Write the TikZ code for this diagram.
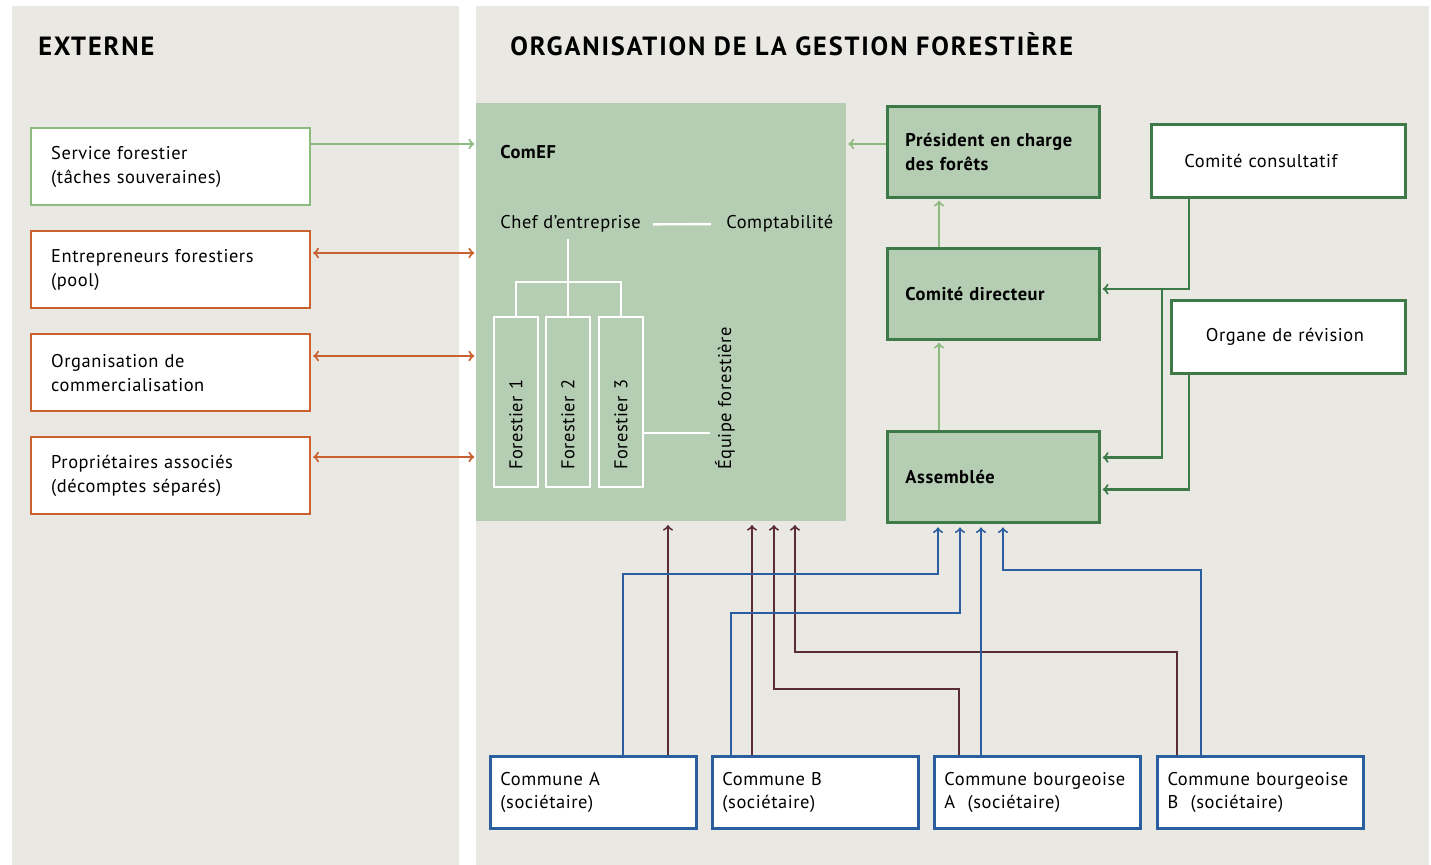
\documentclass[tikz,border=0pt]{standalone}
\usepackage{fontspec}
\setmainfont{PT Sans}[LetterSpace=3]
\newfontfamily\headfont{PT Sans}[LetterSpace=7]
\usepackage{xcolor}
\usepackage{tikz}
\usetikzlibrary{arrows,positioning,calc}

\definecolor{panelgray}{RGB}{234,232,227}
\definecolor{comefgreen}{RGB}{181,205,179}
\definecolor{darkgreen}{RGB}{62,122,72}
\definecolor{lightgreen}{RGB}{141,187,127}
\definecolor{rust}{RGB}{201,98,47}
\definecolor{commblue}{RGB}{43,94,158}
\definecolor{plum}{RGB}{90,45,53}
\newcommand{\boxfont}{\fontsize{10.5}{13.6}\selectfont}

\begin{document}
\begin{tikzpicture}[x=0.02cm, y=-0.02cm, >=to, font=\boxfont]
    \tikzstyle{extbox} = [rectangle, draw=rust, line width=1.4pt, fill=white, anchor=north west, minimum width=5.58cm, minimum height=1.54cm, text width=4.78cm, inner xsep=0.4cm, align=left]
    \tikzstyle{comefbox} = [rectangle, fill=comefgreen, anchor=north west, minimum width=7.4cm, minimum height=8.36cm, inner sep=0]
    \tikzstyle{forbox} = [rectangle, draw=white, line width=1.4pt, rotate=90, minimum width=3.4cm, minimum height=0.88cm, text width=2.72cm, inner xsep=0.34cm, inner ysep=0, align=left]
    \tikzstyle{govbox} = [rectangle, draw=darkgreen, line width=1.7pt, fill=comefgreen, anchor=north west, minimum width=4.24cm, minimum height=1.82cm, text width=3.52cm, inner xsep=0.36cm, align=left, font=\boxfont\bfseries]
    \tikzstyle{advbox} = [rectangle, draw=darkgreen, line width=1.7pt, fill=white, anchor=north west, minimum height=1.46cm, align=left]
    \tikzstyle{membox} = [rectangle, draw=commblue, line width=1.7pt, fill=white, anchor=north west, minimum width=4.12cm, minimum height=1.44cm, text width=3.72cm, inner xsep=0.2cm, align=left]
    \tikzstyle{heading} = [anchor=base west, inner sep=0, font=\headfont\fontsize{15}{18}\selectfont\bfseries]
    \tikzstyle{treeline} = [draw=white, line width=1.4pt]
    \tikzstyle{lgarrow} = [draw=lightgreen, line width=1.2pt, ->, shorten >=1pt]
    \tikzstyle{rustarrow} = [draw=rust, line width=1.2pt, <->, shorten >=1pt, shorten <=1pt]
    \tikzstyle{dgarrow} = [draw=darkgreen, line width=1.2pt, ->, shorten >=1pt]
    \tikzstyle{bluearrow} = [draw=commblue, line width=1.1pt, ->, shorten >=2pt]
    \tikzstyle{plumarrow} = [draw=plum, line width=1.1pt, ->, shorten >=2pt]

    \useasboundingbox (0,0) rectangle (1431,865);
    \fill[white] (0,0) rectangle (1431,865);
    \fill[panelgray] (12,6) rectangle (459,865);
    \fill[panelgray] (476,6) rectangle (1429,865);

    % Headings
    \node[heading] (ext) at (38,56) {EXTERNE};
    \node[heading] (org) at (510,56) {ORGANISATION DE LA GESTION FORESTIÈRE};

    % External partners
    \node[extbox, draw=lightgreen] (service) at (30,127) {Service forestier\\(tâches souveraines)};
    \node[extbox] (entre) at (30,230) {Entrepreneurs forestiers\\(pool)};
    \node[extbox] (commerc) at (30,333) {Organisation de\\commercialisation};
    \node[extbox] (proprio) at (30,436) {Propriétaires associés\\(décomptes séparés)};

    % ComEF
    \node[comefbox] (comef) at (476,103) {};
    \node[anchor=base west, inner sep=0, font=\boxfont\bfseries] (comeftitle) at (500,158) {ComEF};
    \node[anchor=base west, inner xsep=0.24cm] (chef) at (488,229) {Chef d’entreprise};
    \node[anchor=base west, inner xsep=0.3cm] (compta) at (711,229) {Comptabilité};
    \node[forbox] (f1) at (516,402) {Forestier 1};
    \node[forbox] (f2) at (568,402) {Forestier 2};
    \node[forbox] (f3) at (621,402) {Forestier 3};
    \node[rotate=90, anchor=base west, inner xsep=0, inner ysep=0.1cm] (equipe) at (731,470) {Équipe forestière};

    \draw[treeline] (chef.east) -- (compta.west);
    \draw[treeline] (chef.south -| f2.east) -- (f2.east);
    \draw[treeline] (f1.east) -- ++(0,-34) -| (f3.east);
    \draw[treeline] ([yshift=-0.62cm]f3.south) -- ([yshift=-0.62cm]f3.south -| equipe.north);

    % Governance
    \node[govbox] (pres) at (886,105) {Président en charge\\des forêts};
    \node[govbox] (dir) at (886,247) {Comité directeur};
    \node[govbox] (assem) at (886,430) {Assemblée};
    \node[advbox, minimum width=5.08cm, text width=3.76cm, inner xsep=0.66cm] (consult) at (1150,123) {Comité consultatif};
    \node[advbox, minimum width=4.68cm, text width=3.3cm, inner xsep=0.69cm] (revis) at (1170,299) {Organe de révision};

    % Members
    \node[membox] (comA) at (489,755) {Commune A\\(sociétaire)};
    \node[membox] (comB) at (711,755) {Commune B\\(sociétaire)};
    \node[membox] (bourgA) at (933,755) {Commune bourgeoise\\A~~(sociétaire)};
    \node[membox] (bourgB) at (1156,755) {Commune bourgeoise\\B~~(sociétaire)};

    % External links
    \draw[lgarrow] ([yshift=-0.34cm]service.north east) -- ([yshift=-0.34cm]service.north east -| comef.west);
    \draw[rustarrow] ([yshift=-0.46cm]entre.north east) -- ([yshift=-0.46cm]entre.north east -| comef.west);
    \draw[rustarrow] ([yshift=-0.46cm]commerc.north east) -- ([yshift=-0.46cm]commerc.north east -| comef.west);
    \draw[rustarrow] ([yshift=-0.42cm]proprio.north east) -- ([yshift=-0.42cm]proprio.north east -| comef.west);

    % Governance links
    \draw[lgarrow] ([yshift=-0.78cm]pres.north west) -- ([yshift=-0.78cm]pres.north west -| comef.east);
    \draw[lgarrow] ([xshift=1.06cm]dir.north west) -- ([xshift=1.06cm]pres.south west);
    \draw[lgarrow] ([xshift=1.06cm]assem.north west) -- ([xshift=1.06cm]dir.south west);
    \draw[dgarrow] ([xshift=0.78cm]consult.south west) |- ([yshift=0.1cm]dir.east);
    \draw[dgarrow] ([xshift=1.22cm,yshift=0.1cm]dir.east) |- ([yshift=0.39cm]assem.east);
    \draw[dgarrow] ([xshift=0.38cm]revis.south west) |- ([yshift=-0.25cm]assem.east);

    % Members to ComEF
    \draw[plumarrow] ([xshift=3.58cm]comA.north west) -- ([xshift=3.58cm]comA.north west |- comef.south);
    \draw[plumarrow] ([xshift=0.82cm]comB.north west) -- ([xshift=0.82cm]comB.north west |- comef.south);
    \draw[plumarrow] ([xshift=0.52cm]bourgA.north west) -- ++(0,-66) -| ([xshift=5.96cm]comef.south west);
    \draw[plumarrow] ([xshift=0.42cm]bourgB.north west) -- ++(0,-103) -| ([xshift=6.38cm]comef.south west);

    % Members to Assemblée
    \draw[bluearrow] ([xshift=2.68cm]comA.north west) -- ++(0,-181) -| ([xshift=1.04cm]assem.south west);
    \draw[bluearrow] ([xshift=0.4cm]comB.north west) -- ++(0,-142) -| ([xshift=1.48cm]assem.south west);
    \draw[bluearrow] ([xshift=0.96cm]bourgA.north west) -- ([xshift=0.96cm]bourgA.north west |- assem.south);
    \draw[bluearrow] ([xshift=0.9cm]bourgB.north west) -- ++(0,-185) -| ([xshift=2.34cm]assem.south west);
\end{tikzpicture}
\end{document}
